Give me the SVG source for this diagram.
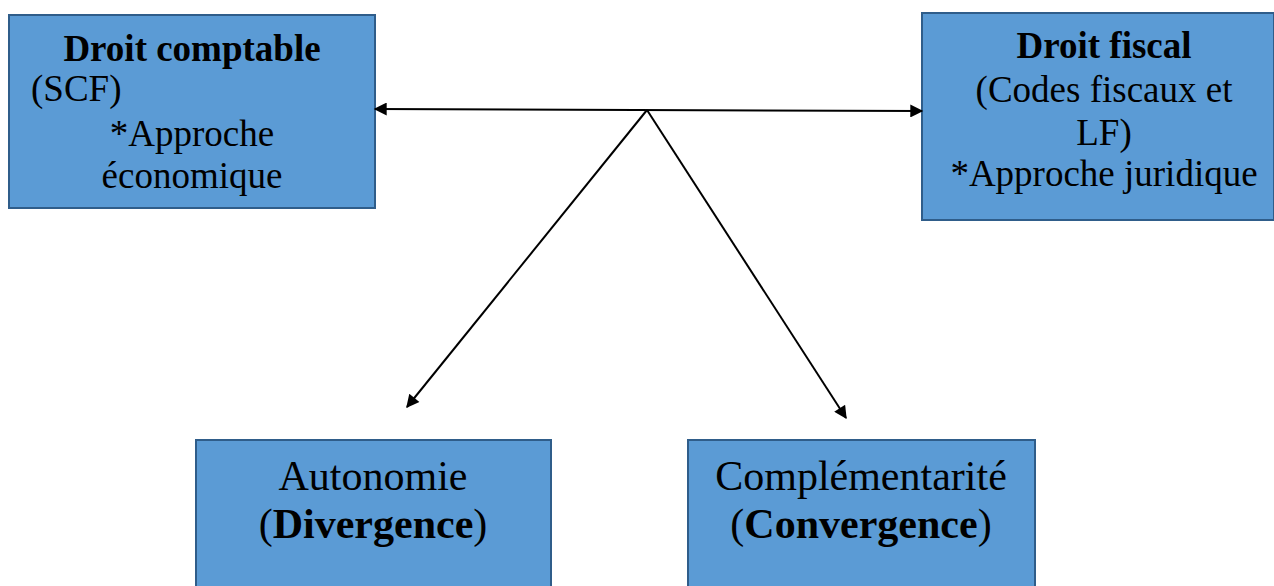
<svg xmlns="http://www.w3.org/2000/svg" width="1274" height="586" viewBox="0 0 1274 586">
  <style>
    .box { fill: #5b9bd5; stroke: #2f5d8a; stroke-width: 2; }
    .t { font-family: "Liberation Serif", "Times New Roman", serif; font-size: 37px; fill: #000; }
    .lg { font-size: 42px; }
    .c { text-anchor: middle; }
    .b { font-weight: bold; }
    .link { stroke: #000; stroke-width: 2; fill: none; }
  </style>
  <defs>
    <marker id="arrow" viewBox="0 0 10 10" refX="9" refY="5" markerWidth="7.5" markerHeight="6.5" orient="auto-start-reverse" markerUnits="strokeWidth">
      <path d="M0,0 L10,5 L0,10 z" fill="#000"/>
    </marker>
  </defs>

  <g id="droit-comptable">
    <rect class="box" x="9" y="15" width="366" height="193"/>
    <text class="t c b" x="192" y="61">Droit comptable</text>
    <text class="t" x="31" y="101">(SCF)</text>
    <text class="t c" x="192" y="146">*Approche</text>
    <text class="t c" x="192" y="188">économique</text>
  </g>

  <g id="droit-fiscal">
    <rect class="box" x="922" y="13" width="352" height="207"/>
    <text class="t c b" x="1104" y="58">Droit fiscal</text>
    <text class="t c" x="1104" y="102">(Codes fiscaux et</text>
    <text class="t c" x="1104" y="145">LF)</text>
    <text class="t c" x="1104" y="186">*Approche juridique</text>
  </g>

  <g id="autonomie">
    <rect class="box" x="196" y="440" width="355" height="160"/>
    <text class="t lg c" x="373" y="490">Autonomie</text>
    <text class="t lg c" x="373" y="538">(<tspan class="b">Divergence</tspan>)</text>
  </g>

  <g id="complementarite">
    <rect class="box" x="688" y="440" width="347" height="160"/>
    <text class="t lg c" x="861" y="490">Complémentarité</text>
    <text class="t lg c" x="861" y="538">(<tspan class="b">Convergence</tspan>)</text>
  </g>

  <g id="connectors">
    <line class="link" x1="375" y1="109" x2="922" y2="111" marker-start="url(#arrow)" marker-end="url(#arrow)"/>
    <line class="link" x1="647" y1="110" x2="407" y2="407" marker-end="url(#arrow)"/>
    <line class="link" x1="647" y1="110" x2="846" y2="418" marker-end="url(#arrow)"/>
  </g>
</svg>
